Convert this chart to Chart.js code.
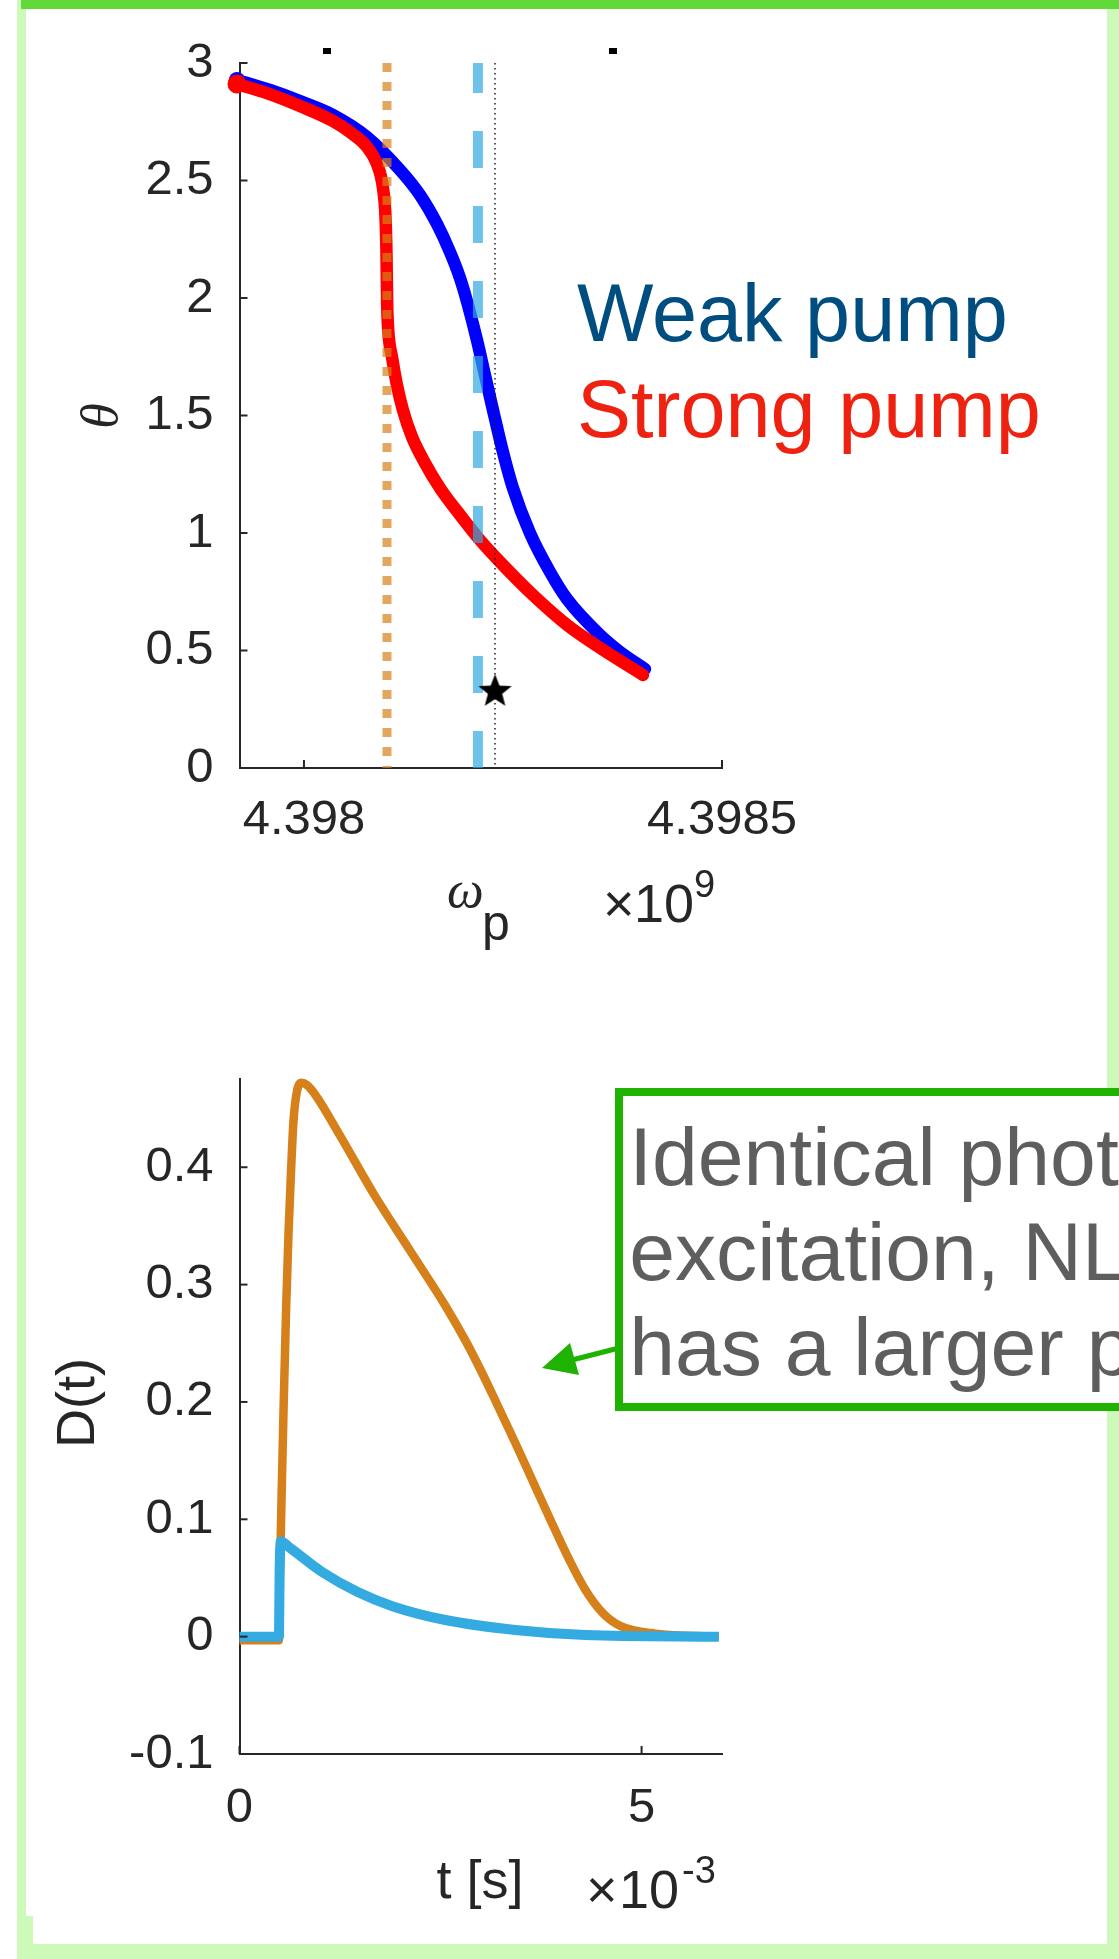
<!DOCTYPE html>
<html><head><meta charset="utf-8">
<script src="https://cdn.jsdelivr.net/npm/chart.js@4"></script>
<style>
html,body{margin:0;padding:0;background:#fff;}
#page{position:relative;width:1119px;height:1959px;overflow:hidden;background:#fff;}
canvas{position:absolute;left:0;}
#c1{top:0;}
#c2{top:1000px;}
svg{position:absolute;left:0;top:0;}
</style></head>
<body><div id="page">
<svg id="bg" width="1119" height="1959">
  <rect x="17" y="0" width="9" height="1959" fill="#cdfab9"/>
  <rect x="17" y="1916" width="16" height="43" fill="#cdfab9"/>
  <rect x="17" y="1944" width="1102" height="15" fill="#cdfab9"/>
  <rect x="1107" y="0" width="12" height="1959" fill="#cdfab9"/>
  <rect x="21" y="0" width="1098" height="9" fill="#62d93a"/>
  <rect x="323" y="48" width="8" height="6" fill="#000"/>
  <rect x="609" y="48" width="8" height="6" fill="#000"/>
</svg>
<canvas id="c1" width="1119" height="980"></canvas>
<canvas id="c2" width="1119" height="959"></canvas>
<svg id="fg" width="1119" height="1959" font-family="Liberation Sans, Arial, sans-serif">
  <text x="577" y="341" font-size="81" fill="#004d80">Weak pump</text>
  <text x="577" y="437" font-size="81" fill="#ee2211">Strong pump</text>
  <text transform="translate(117,416) rotate(-90)" text-anchor="middle" font-family="Liberation Serif, serif" font-style="italic" font-size="52" fill="#262626">θ</text>
  <text x="447" y="907" font-family="Liberation Serif, serif" font-style="italic" font-size="52" fill="#262626">ω</text>
  <text x="482" y="940" font-size="50" fill="#262626">p</text>
  <text x="603" y="922" font-size="54" fill="#262626">×</text>
  <text x="634" y="922" font-size="54" fill="#262626">10</text>
  <text x="694" y="897" font-size="38" fill="#262626">9</text>
  <text transform="translate(94,1403) rotate(-90)" text-anchor="middle" font-size="54" fill="#262626">D(t)</text>
  <text x="480" y="1898" text-anchor="middle" font-size="54" fill="#262626">t [s]</text>
  <text x="586" y="1908" font-size="54" fill="#262626">×</text>
  <text x="619" y="1908" font-size="54" fill="#262626">10</text>
  <text x="682" y="1883" font-size="38" fill="#262626">-3</text>
  <rect x="619" y="1092" width="600" height="315" fill="#fff" stroke="#1fb200" stroke-width="8"/>
  <text x="629.2" y="1185" font-size="82.3" fill="#5e5e5e">Identical photon</text>
  <text x="629.2" y="1280" font-size="82.3" fill="#5e5e5e">excitation, NLR</text>
  <text x="629.2" y="1375" font-size="82.3" fill="#5e5e5e">has a larger peak</text>
  <line x1="619" y1="1348" x2="572" y2="1360" stroke="#1fb200" stroke-width="5"/>
  <polygon points="542,1368 570,1343 579,1375" fill="#1fb200"/>
</svg>
</div>
<script>
// ---------- top panel data (omega in units of 1e9) ----------
const omegaTicks = [4.398, 4.3985];
const omegaTickLabels = ['4.398', '4.3985'];
const omegaMin = 4.3979229;
const omegaMax = 4.3985;
const thetaTicks = [0, 0.5, 1, 1.5, 2, 2.5, 3];
const thetaTickLabels = ['0', '0.5', '1', '1.5', '2', '2.5', '3'];

const omegaBlue = [4.3979199, 4.3979593, 4.3979952, 4.3980347, 4.3980754, 4.3981148, 4.3981388, 4.3981591, 4.3981746, 4.3981866, 4.3981962, 4.3982069, 4.3982165, 4.3982261, 4.3982368, 4.3982500, 4.3982703, 4.3982943, 4.3983146, 4.3983541, 4.3983780, 4.3984079];
const thetaBlue = [2.928, 2.885, 2.838, 2.779, 2.685, 2.545, 2.438, 2.315, 2.196, 2.085, 1.970, 1.821, 1.672, 1.523, 1.362, 1.191, 1.000, 0.834, 0.719, 0.566, 0.494, 0.421];

const omegaRed = [4.3979199, 4.3979557, 4.3979952, 4.3980347, 4.3980550, 4.3980754, 4.3980873, 4.3980945, 4.3980975, 4.3980987, 4.3980995, 4.3981008, 4.3981053, 4.3981112, 4.3981184, 4.3981292, 4.3981447, 4.3981627, 4.3981866, 4.3982105, 4.3982344, 4.3982739, 4.3983146, 4.3983541, 4.3984055];
const thetaRed = [2.911, 2.872, 2.817, 2.753, 2.706, 2.643, 2.570, 2.468, 2.345, 2.191, 1.979, 1.864, 1.749, 1.630, 1.523, 1.409, 1.298, 1.191, 1.077, 0.970, 0.877, 0.736, 0.609, 0.511, 0.396];

const omegaOrangeLine = 4.3980993;
const omegaBlueLine = 4.3982081;
const omegaBlackLine = 4.3982285;
const starPoint = [4.3982285, 0.325];

// ---------- bottom panel data (t in units of 1e-3 s) ----------
const tTicks = [0, 5];
const tTickLabels = ['0', '5'];
const tMin = 0, tMax = 6;
const dTicks = [-0.1, 0, 0.1, 0.2, 0.3, 0.4];
const dTickLabels = ['-0.1', '0', '0.1', '0.2', '0.3', '0.4'];
const dMin = -0.1, dMax = 0.4752;

const tOrange = [0, 0.49, 0.505, 0.53, 0.55, 0.58, 0.61, 0.64, 0.67, 0.71, 0.77, 0.84, 0.94, 1.25, 1.68, 2.12, 2.56, 2.82, 3.0, 3.21, 3.43, 3.65, 3.87, 4.09, 4.30, 4.52, 4.74, 5.17, 5.96];
const dOrange = [-0.003, -0.003, 0.06, 0.14, 0.20, 0.28, 0.345, 0.395, 0.438, 0.463, 0.472, 0.470, 0.462, 0.427, 0.376, 0.329, 0.282, 0.251, 0.227, 0.197, 0.165, 0.132, 0.099, 0.067, 0.040, 0.020, 0.009, 0.0025, 0.0];

const tBlue = [0, 0.49, 0.50, 0.515, 0.64, 1.03, 1.47, 1.90, 2.56, 3.43, 4.30, 5.96];
const dBlue = [0, 0, 0.06, 0.081, 0.075, 0.055, 0.038, 0.026, 0.0142, 0.0057, 0.0014, 0];

// ---------- helpers ----------
const AXIS = '#262626';
const FONT = 'Liberation Sans';
Chart.defaults.font.family = FONT;

const zip = (xs, ys) => xs.map((x, i) => ({x: x, y: ys[i]}));

function makeStar(r) {
  const s = Math.ceil(r * 2 + 2);
  const c = document.createElement('canvas');
  c.width = s; c.height = s;
  const g = c.getContext('2d');
  g.fillStyle = '#000';
  g.beginPath();
  for (let i = 0; i < 10; i++) {
    const a = -Math.PI / 2 + i * Math.PI / 5;
    const rr = i % 2 ? r * 0.43 : r;
    g.lineTo(s / 2 + rr * Math.cos(a), s / 2 + rr * Math.sin(a));
  }
  g.closePath();
  g.fill();
  return c;
}

const inwardTicks = {
  id: 'inwardTicks',
  afterDraw(chart) {
    const {ctx, chartArea, scales} = chart;
    ctx.save();
    ctx.strokeStyle = AXIS;
    ctx.lineWidth = 2;
    scales.y.ticks.forEach(t => {
      const p = scales.y.getPixelForValue(t.value);
      ctx.beginPath(); ctx.moveTo(chartArea.left, p); ctx.lineTo(chartArea.left + 8, p); ctx.stroke();
    });
    scales.x.ticks.forEach(t => {
      const p = scales.x.getPixelForValue(t.value);
      ctx.beginPath(); ctx.moveTo(p, chartArea.bottom); ctx.lineTo(p, chartArea.bottom - 8); ctx.stroke();
    });
    ctx.restore();
  }
};

function axisOpts(min, max, ticks, labels, isX, fitSize, pad) {
  return {
    type: 'linear',
    min: min, max: max,
    afterBuildTicks: s => { s.ticks = ticks.map(v => ({value: v})); },
    afterFit: s => { if (isX) s.height = fitSize; else s.width = fitSize; },
    ticks: {
      autoSkip: false, maxRotation: 0, minRotation: 0,
      padding: pad,
      color: AXIS,
      font: {family: FONT, size: 49},
      callback: (v, i) => labels[i]
    },
    grid: {display: false, drawTicks: false},
    border: {display: true, color: AXIS, width: 2}
  };
}

const common = {
  responsive: false,
  animation: false,
  devicePixelRatio: 1,
  events: [],
  plugins: {legend: {display: false}, tooltip: {enabled: false}}
};

// ---------- top chart ----------
new Chart(document.getElementById('c1'), {
  type: 'scatter',
  data: {
    datasets: [
      {data: [{x: starPoint[0], y: starPoint[1]}], pointStyle: makeStar(17.5), pointRadius: 17, showLine: false, order: 0, clip: false},
      {data: [{x: omegaOrangeLine, y: 3}, {x: omegaOrangeLine, y: 0}], showLine: true, borderColor: 'rgba(213,128,25,0.7)', borderWidth: 9, borderDash: [9, 10], borderCapStyle: 'butt', pointRadius: 0, order: 1},
      {data: [{x: omegaBlueLine, y: 3}, {x: omegaBlueLine, y: 0}], showLine: true, borderColor: 'rgba(50,170,225,0.7)', borderWidth: 10, borderDash: [37, 38], borderDashOffset: 7, borderCapStyle: 'butt', pointRadius: 0, order: 2},
      {data: [{x: omegaBlackLine, y: 3}, {x: omegaBlackLine, y: 0}], showLine: true, borderColor: '#222', borderWidth: 1.5, borderDash: [1.5, 3.5], borderCapStyle: 'butt', pointRadius: 0, order: 3},
      {data: zip(omegaRed, thetaRed), showLine: true, borderColor: '#ff0000', borderWidth: 12.5, borderCapStyle: 'round', borderJoinStyle: 'round', cubicInterpolationMode: 'monotone',
        pointRadius: c => c.dataIndex === 0 ? 9.5 : 0, pointBackgroundColor: '#ff0000', pointBorderWidth: 0, order: 4, clip: false},
      {data: zip(omegaBlue, thetaBlue), showLine: true, borderColor: '#0000ff', borderWidth: 12.5, borderCapStyle: 'round', borderJoinStyle: 'round', cubicInterpolationMode: 'monotone',
        pointRadius: c => c.dataIndex === 0 ? 8 : 0, pointBackgroundColor: '#0000ff', pointBorderWidth: 0, order: 5, clip: false}
    ]
  },
  options: Object.assign({}, common, {
    layout: {padding: {left: 0, top: 63, right: 397, bottom: 0}},
    scales: {
      x: axisOpts(omegaMin, omegaMax, omegaTicks, omegaTickLabels, true, 212, 22.6),
      y: axisOpts(0, 3, thetaTicks, thetaTickLabels, false, 239.5, 26)
    }
  }),
  plugins: [inwardTicks]
});

// ---------- bottom chart ----------
new Chart(document.getElementById('c2'), {
  type: 'scatter',
  data: {
    datasets: [
      {data: zip(tBlue, dBlue), showLine: true, borderColor: '#33aae0', borderWidth: 10, borderCapStyle: 'butt', borderJoinStyle: 'round', cubicInterpolationMode: 'monotone', pointRadius: 0, order: 0, clip: false},
      {data: zip(tOrange, dOrange), showLine: true, borderColor: '#d5801a', borderWidth: 8.5, borderCapStyle: 'butt', borderJoinStyle: 'round', cubicInterpolationMode: 'monotone', pointRadius: 0, order: 1, clip: false}
    ]
  },
  options: Object.assign({}, common, {
    layout: {padding: {left: 0, top: 79, right: 397, bottom: 0}},
    scales: {
      x: axisOpts(tMin, tMax, tTicks, tTickLabels, true, 205, 24.6),
      y: axisOpts(dMin, dMax, dTicks, dTickLabels, false, 239.5, 26)
    }
  }),
  plugins: [inwardTicks]
});
</script>
</body></html>
